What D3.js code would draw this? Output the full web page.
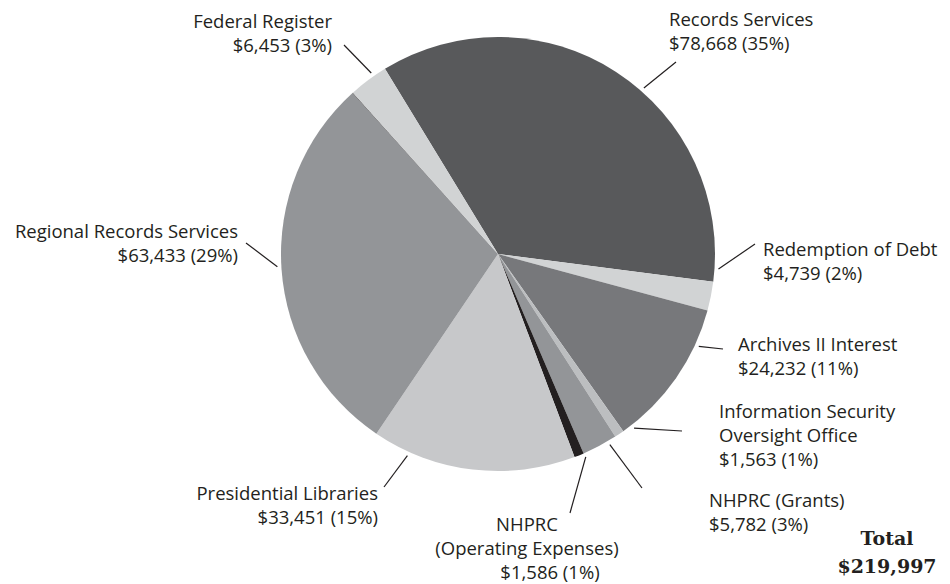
<!DOCTYPE html>
<html>
<head>
<meta charset="utf-8">
<script src="https://cdn.jsdelivr.net/npm/d3@7"></script>
<style>
  body { margin: 0; background: #fff; }
  text { font-family: "Open Sans", sans-serif; font-size: 18.5px; fill: #231f20; }
  .total { font-family: "DejaVu Serif", serif; font-weight: bold; font-size: 19px; }
</style>
</head>
<body>
<div id="chart"></div>
<script>
// budget items, clockwise from Records Services
var names = ["Records Services", "Redemption of Debt", "Archives II Interest",
  "Information Security Oversight Office", "NHPRC (Grants)", "NHPRC (Operating Expenses)",
  "Presidential Libraries", "Regional Records Services", "Other", "Federal Register"];
var amounts = [78668, 4739, 24232, 1563, 5782, 1586, 33451, 63433, 90, 6453];
var percents = ["35%", "2%", "11%", "1%", "3%", "1%", "15%", "29%", "", "3%"];
var colors = ["#58595b", "#d1d3d4", "#77787b", "#bcbec0", "#939598", "#231f20",
  "#c7c8ca", "#939598", "#231f20", "#d1d3d4"];
var totalLabel = "$219,997";

// label layout: text lines, anchor, x, first baseline, leader angle (deg) + outer end
var labelLayout = [
  {i: 0, lines: ["Records Services"], anchor: "start", x: 669, y: 26, ang: 41.3, ex: 676, ey: 62},
  {i: 1, lines: ["Redemption of Debt"], anchor: "start", x: 763, y: 256, ang: 93.9, ex: 755, ey: 244},
  {i: 2, lines: ["Archives II Interest"], anchor: "start", x: 738, y: 351, ang: 114.7, ex: 723, ey: 349},
  {i: 3, lines: ["Information Security", "Oversight Office"], anchor: "start", x: 719, y: 418, ang: 142, ex: 682, ey: 431},
  {i: 4, lines: ["NHPRC (Grants)"], anchor: "start", x: 709, y: 507, ang: 149.6, ex: 642, ey: 488},
  {i: 5, lines: ["NHPRC", "(Operating Expenses)"], anchor: "middle", x: 527, y: 531, ang: 156.6, ex: 570, ey: 513, vx: 550},
  {i: 6, lines: ["Presidential Libraries"], anchor: "end", x: 378, y: 500, ang: 204.2, ex: 384, ey: 487},
  {i: 7, lines: ["Regional Records Services"], anchor: "end", x: 238, y: 238, ang: -93.3, ex: 246, ey: 243},
  {i: 9, lines: ["Federal Register"], anchor: "end", x: 332, y: 28, ang: -35, ex: 344, ey: 45}
];

var width = 950, height = 584;
var cx = 498, cy = 254, radius = 217;
var lineH = 24;

var svg = d3.select("#chart").append("svg")
  .attr("width", width)
  .attr("height", height);

var data = names.map(function(n, i) { return {name: n, value: amounts[i], pct: percents[i], color: colors[i]}; });

var start = -31.4 * Math.PI / 180;
var pie = d3.pie()
  .sort(null)
  .value(function(d) { return d.value; })
  .startAngle(start)
  .endAngle(start + 2 * Math.PI);

var arc = d3.arc().innerRadius(0).outerRadius(radius);

var g = svg.append("g").attr("transform", "translate(" + cx + "," + cy + ")");

g.selectAll("path")
  .data(pie(data))
  .enter()
  .append("path")
  .attr("d", arc)
  .attr("fill", function(d) { return d.data.color; });

var fmt = d3.format(",");

// leader lines
function polar(deg, r) {
  var a = deg * Math.PI / 180;
  return [cx + r * Math.sin(a), cy - r * Math.cos(a)];
}
svg.selectAll("line.leader")
  .data(labelLayout)
  .enter()
  .append("line")
  .attr("class", "leader")
  .attr("x1", function(d) { return polar(d.ang, radius + 4)[0]; })
  .attr("y1", function(d) { return polar(d.ang, radius + 4)[1]; })
  .attr("x2", function(d) { return d.ex; })
  .attr("y2", function(d) { return d.ey; })
  .attr("stroke", "#231f20")
  .attr("stroke-width", 1.2);

// labels
labelLayout.forEach(function(L) {
  var d = data[L.i];
  var lines = L.lines.concat(["$" + fmt(d.value) + " (" + d.pct + ")"]);
  var t = svg.append("text").attr("text-anchor", L.anchor);
  lines.forEach(function(s, k) {
    var isValue = k === lines.length - 1;
    t.append("tspan")
      .attr("x", isValue && L.vx ? L.vx : L.x)
      .attr("y", L.y + k * lineH)
      .text(s);
  });
});

// total
var tot = svg.append("text").attr("class", "total").attr("text-anchor", "middle");
tot.append("tspan").attr("x", 887).attr("y", 545).text("Total");
tot.append("tspan").attr("x", 887).attr("y", 573).text(totalLabel);
</script>
</body>
</html>
